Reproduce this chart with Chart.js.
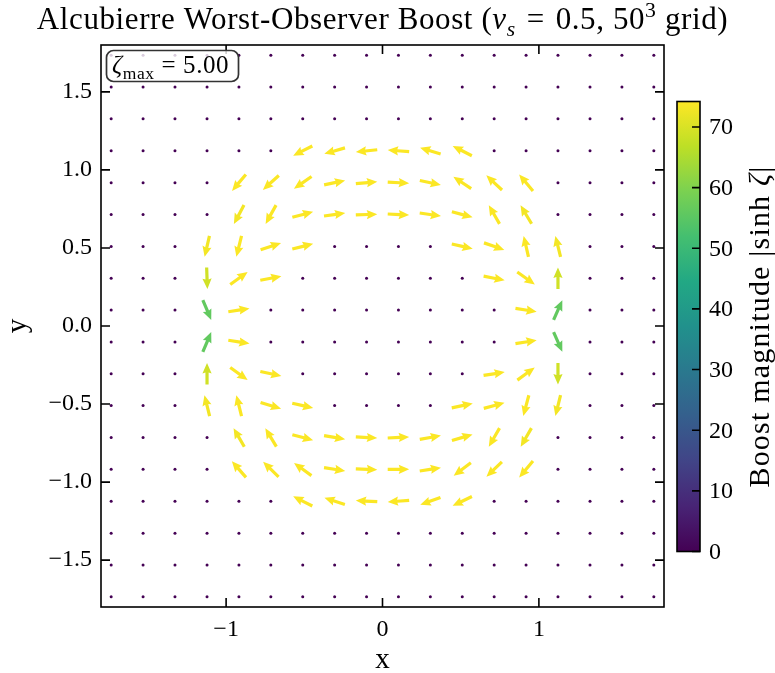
<!DOCTYPE html>
<html>
<head>
<meta charset="utf-8">
<title>Alcubierre Worst-Observer Boost</title>
<script src="https://cdn.jsdelivr.net/npm/chart.js@4.4.1/dist/chart.umd.min.js"></script>
<style>
  html, body { margin: 0; padding: 0; background: #fff; }
  #chart { display: block; }
</style>
</head>
<body>
<canvas id="chart" width="775" height="673"></canvas>
<script>
// sampled node centres of the z = 0 slice (every 5th node of the 50-point axis)
const gridX = [-1.735, -1.531, -1.327, -1.122, -0.918, -0.714, -0.510, -0.306, -0.102,
               0.102, 0.306, 0.510, 0.714, 0.918, 1.122, 1.327, 1.531, 1.735];
const gridY = [1.735, 1.531, 1.327, 1.122, 0.918, 0.714, 0.510, 0.306, 0.102,
               -0.102, -0.306, -0.510, -0.714, -0.918, -1.122, -1.327, -1.531, -1.735];

const xTicks = [-1, 0, 1];
const yTicks = [-1.5, -1.0, -0.5, 0.0, 0.5, 1.0, 1.5];
const cbarTicks = [0, 10, 20, 30, 40, 50, 60, 70];

const zetaMax = 5.00;
const boostMax = 74.2;   // sinh(zeta_max)

// boost arrows: [column, row, direction (deg), |sinh zeta|]
const arrowList = [
  [6, 3, 207, 74], [7, 3, 196, 74], [8, 3, 186, 74], [9, 3, 176, 74], [10, 3, 163, 74], [11, 3, 153, 74],
  [4, 4, 230, 74], [5, 4, 222, 74], [6, 4, 215, 74], [7, 4, 12, 74], [8, 4, 5, 74],
  [9, 4, 357, 74], [10, 4, 348, 74], [11, 4, 146, 74], [12, 4, 137, 74], [13, 4, 130, 74],
  [4, 5, 242, 73], [5, 5, 241, 74], [6, 5, 15, 74], [7, 5, 8, 74], [8, 5, 2, 74],
  [9, 5, 357, 74], [10, 5, 352, 74], [11, 5, 345, 74], [12, 5, 120, 74], [13, 5, 121, 73],
  [3, 6, 257, 73], [4, 6, 256, 74], [5, 6, 18, 74], [6, 6, 14, 74],
  [11, 6, 347, 74], [12, 6, 341, 74], [13, 6, 103, 74], [14, 6, 104, 73],
  [3, 7, 272, 69], [4, 7, 36, 74], [5, 7, 11, 74], [12, 7, 349, 74], [13, 7, 325, 74], [14, 7, 90, 69],
  [3, 8, 293, 56], [4, 8, 9, 74], [13, 8, 351, 74], [14, 8, 66, 56],
  [3, 9, 67, 56], [4, 9, 351, 74], [13, 9, 9, 74], [14, 9, 294, 56],
  [3, 10, 90, 69], [4, 10, 324, 74], [5, 10, 348, 74], [12, 10, 9, 74], [13, 10, 36, 74], [14, 10, 270, 69],
  [3, 11, 104, 73], [4, 11, 104, 74], [5, 11, 343, 74], [6, 11, 347, 74],
  [11, 11, 12, 74], [12, 11, 15, 74], [13, 11, 255, 74], [14, 11, 256, 73],
  [4, 12, 120, 73], [5, 12, 121, 74], [6, 12, 345, 74], [7, 12, 350, 74], [8, 12, 357, 74],
  [9, 12, 3, 74], [10, 12, 10, 74], [11, 12, 16, 74], [12, 12, 240, 74], [13, 12, 240, 73],
  [4, 13, 131, 74], [5, 13, 136, 74], [6, 13, 144, 74], [7, 13, 351, 74], [8, 13, 358, 74],
  [9, 13, 0, 74], [10, 13, 9, 74], [11, 13, 217, 74], [12, 13, 224, 74], [13, 13, 230, 74],
  [6, 14, 153, 74], [7, 14, 162, 74], [8, 14, 177, 74], [9, 14, 184, 74], [10, 14, 200, 74], [11, 14, 206, 74]
];

const SERIF = '"Liberation Serif", "Times New Roman", serif';

// viridis colour map
const viridisStops = ['#440154', '#482475', '#414487', '#355f8d', '#2a788e', '#21918c',
                      '#22a884', '#44bf70', '#7ad151', '#bddf26', '#fde725'];
function hexRgb(h) {
  return [parseInt(h.slice(1, 3), 16), parseInt(h.slice(3, 5), 16), parseInt(h.slice(5, 7), 16)];
}
function viridis(t) {
  t = Math.min(1, Math.max(0, t));
  const p = t * 10;
  const i = Math.min(9, Math.floor(p));
  const f = p - i;
  const a = hexRgb(viridisStops[i]), b = hexRgb(viridisStops[i + 1]);
  const c = a.map((v, k) => Math.round(v + (b[k] - v) * f));
  return `rgb(${c[0]},${c[1]},${c[2]})`;
}

// grid nodes without a visible boost are drawn as dots
const arrowKeys = new Set(arrowList.map(a => a[0] + ',' + a[1]));
const dotPoints = [];
gridY.forEach((y, r) => gridX.forEach((x, c) => {
  if (!arrowKeys.has(c + ',' + r)) dotPoints.push({ x: x, y: y, boost: 0 });
}));
const arrowPoints = arrowList.map(([c, r, ang, b]) => ({ x: gridX[c], y: gridY[r], angle: ang, boost: b }));

// draw mixed roman / italic / sub / superscript text
function drawParts(ctx, parts, x, y, size, align, spacing) {
  const fontFor = p => `${p.it ? 'italic ' : ''}${(p.sub || p.sup) ? size * 0.7 : size}px ${SERIF}`;
  ctx.letterSpacing = (spacing || 0) + 'px';
  let total = 0;
  parts.forEach(p => { ctx.font = fontFor(p); p.w = ctx.measureText(p.t).width; total += p.w; });
  let cx = align === 'center' ? x - total / 2 : (align === 'right' ? x - total : x);
  ctx.textAlign = 'left';
  ctx.textBaseline = 'alphabetic';
  parts.forEach(p => {
    ctx.font = fontFor(p);
    const dy = p.sub ? size * 0.22 : (p.sup ? -size * 0.38 : 0);
    ctx.fillText(p.t, cx, y + dy);
    cx += p.w;
  });
  ctx.letterSpacing = '0px';
}

const minus = v => (v < 0 ? '\u2212' : '');

// quiver arrows: pivot at the node, fixed length, coloured by boost
const quiverPlugin = {
  id: 'quiver',
  afterDatasetsDraw(chart) {
    const { ctx } = chart;
    const meta = chart.getDatasetMeta(1);
    const L = 21.5, w = 3.2, hw = 9.2, hl = 10.5, hal = 9.5;
    ctx.save();
    meta.data.forEach((el, i) => {
      const p = arrowPoints[i];
      ctx.save();
      ctx.translate(el.x, el.y);
      ctx.rotate(-p.angle * Math.PI / 180);
      const x0 = -L / 2, x1 = L / 2;
      ctx.fillStyle = viridis(p.boost / boostMax);
      ctx.beginPath();
      ctx.moveTo(x0, -w / 2);
      ctx.lineTo(x1 - hal, -w / 2);
      ctx.lineTo(x1 - hl, -hw / 2);
      ctx.lineTo(x1, 0);
      ctx.lineTo(x1 - hl, hw / 2);
      ctx.lineTo(x1 - hal, w / 2);
      ctx.lineTo(x0, w / 2);
      ctx.closePath();
      ctx.fill();
      ctx.restore();
    });
    ctx.restore();
  }
};

// frame with inward ticks on all four sides, plus the zeta_max badge
const framePlugin = {
  id: 'frame',
  afterDatasetsDraw(chart) {
    const { ctx, chartArea: a, scales: { x, y } } = chart;
    const tl = 9;
    ctx.save();
    ctx.strokeStyle = '#000';
    ctx.lineWidth = 1.6;
    ctx.beginPath();
    xTicks.forEach(v => {
      const px = x.getPixelForValue(v);
      ctx.moveTo(px, a.bottom); ctx.lineTo(px, a.bottom - tl);
      ctx.moveTo(px, a.top); ctx.lineTo(px, a.top + tl);
    });
    yTicks.forEach(v => {
      const py = y.getPixelForValue(v);
      ctx.moveTo(a.left, py); ctx.lineTo(a.left + tl, py);
      ctx.moveTo(a.right, py); ctx.lineTo(a.right - tl, py);
    });
    ctx.stroke();
    ctx.strokeRect(a.left, a.top, a.right - a.left, a.bottom - a.top);

    ctx.fillStyle = 'rgba(255,255,255,0.8)';
    ctx.strokeStyle = '#333';
    ctx.lineWidth = 1.7;
    ctx.beginPath();
    ctx.roundRect(106.5, 50.5, 132, 31, 7);
    ctx.fill();
    ctx.stroke();
    ctx.fillStyle = '#000';
    drawParts(ctx, [
      { t: '\u03b6', it: true }, { t: 'max', sub: true }, { t: ' = ' + zetaMax.toFixed(2) }
    ], 112, 73, 25, 'left', 0.6);
    ctx.restore();
  },
  afterDraw(chart) {
    const { ctx, chartArea: a } = chart;
    ctx.save();
    ctx.fillStyle = '#000';

    // title
    drawParts(ctx, [
      { t: 'Alcubierre Worst-Observer Boost (' },
      { t: 'v', it: true }, { t: 's', it: true, sub: true },
      { t: '\u2004=\u20040.5, 50' }, { t: '3', sup: true }, { t: ' grid)' }
    ], (a.left + a.right) / 2, 29, 31, 'center', 0.6);

    // axis labels
    drawParts(ctx, [{ t: 'x' }], (a.left + a.right) / 2, 668, 29, 'center');
    ctx.save();
    ctx.translate(26, (a.top + a.bottom) / 2);
    ctx.rotate(-Math.PI / 2);
    drawParts(ctx, [{ t: 'y' }], 0, 0, 29, 'center');
    ctx.restore();

    // colour bar
    const cbL = 677, cbR = 700, cbT = 101.5, cbB = 551.5;
    const grad = ctx.createLinearGradient(0, cbB, 0, cbT);
    viridisStops.forEach((c, i) => grad.addColorStop(i / 10, c));
    ctx.fillStyle = grad;
    ctx.fillRect(cbL, cbT, cbR - cbL, cbB - cbT);
    ctx.strokeStyle = '#000';
    ctx.lineWidth = 1.6;
    ctx.strokeRect(cbL, cbT, cbR - cbL, cbB - cbT);
    const cbPix = v => cbB - v / boostMax * (cbB - cbT);
    ctx.beginPath();
    cbarTicks.forEach(v => {
      const py = cbPix(v);
      ctx.moveTo(cbR, py); ctx.lineTo(cbR - 8, py);
    });
    ctx.stroke();
    ctx.fillStyle = '#000';
    ctx.font = `24px ${SERIF}`;
    ctx.textAlign = 'left';
    ctx.textBaseline = 'middle';
    cbarTicks.forEach(v => ctx.fillText(String(v), 709, cbPix(v) + 1));

    ctx.save();
    ctx.translate(769, (cbT + cbB) / 2);
    ctx.rotate(-Math.PI / 2);
    drawParts(ctx, [
      { t: 'Boost magnitude |sinh ' }, { t: '\u03b6', it: true }, { t: '|' }
    ], 0, 0, 30, 'center', 1.2);
    ctx.restore();

    ctx.restore();
  }
};

new Chart(document.getElementById('chart'), {
  type: 'scatter',
  data: {
    datasets: [
      {
        label: 'grid',
        data: dotPoints,
        pointStyle: 'circle',
        radius: 1.5,
        backgroundColor: viridis(0),
        borderWidth: 0
      },
      {
        label: 'boost',
        data: arrowPoints,
        radius: 0,
        borderWidth: 0
      }
    ]
  },
  options: {
    responsive: false,
    animation: false,
    events: [],
    layout: { padding: { top: 45, right: 111, bottom: 0, left: 0 } },
    plugins: {
      legend: { display: false },
      tooltip: { enabled: false },
      title: { display: false }
    },
    scales: {
      x: {
        type: 'linear',
        min: -1.8,
        max: 1.8,
        afterBuildTicks: s => { s.ticks = xTicks.map(v => ({ value: v })); },
        afterFit: s => { s.height = 66; },
        grid: { display: false, drawTicks: false },
        border: { display: false },
        ticks: {
          padding: 8,
          color: '#000',
          font: { family: SERIF, size: 24 },
          callback: v => minus(v) + Math.abs(v)
        }
      },
      y: {
        type: 'linear',
        min: -1.8,
        max: 1.8,
        afterBuildTicks: s => { s.ticks = yTicks.map(v => ({ value: v })); },
        afterFit: s => { s.width = 101; },
        grid: { display: false, drawTicks: false },
        border: { display: false },
        ticks: {
          padding: 9,
          color: '#000',
          font: { family: SERIF, size: 24 },
          callback: v => minus(v) + Math.abs(v).toFixed(1)
        }
      }
    }
  },
  plugins: [quiverPlugin, framePlugin]
});
</script>
</body>
</html>
